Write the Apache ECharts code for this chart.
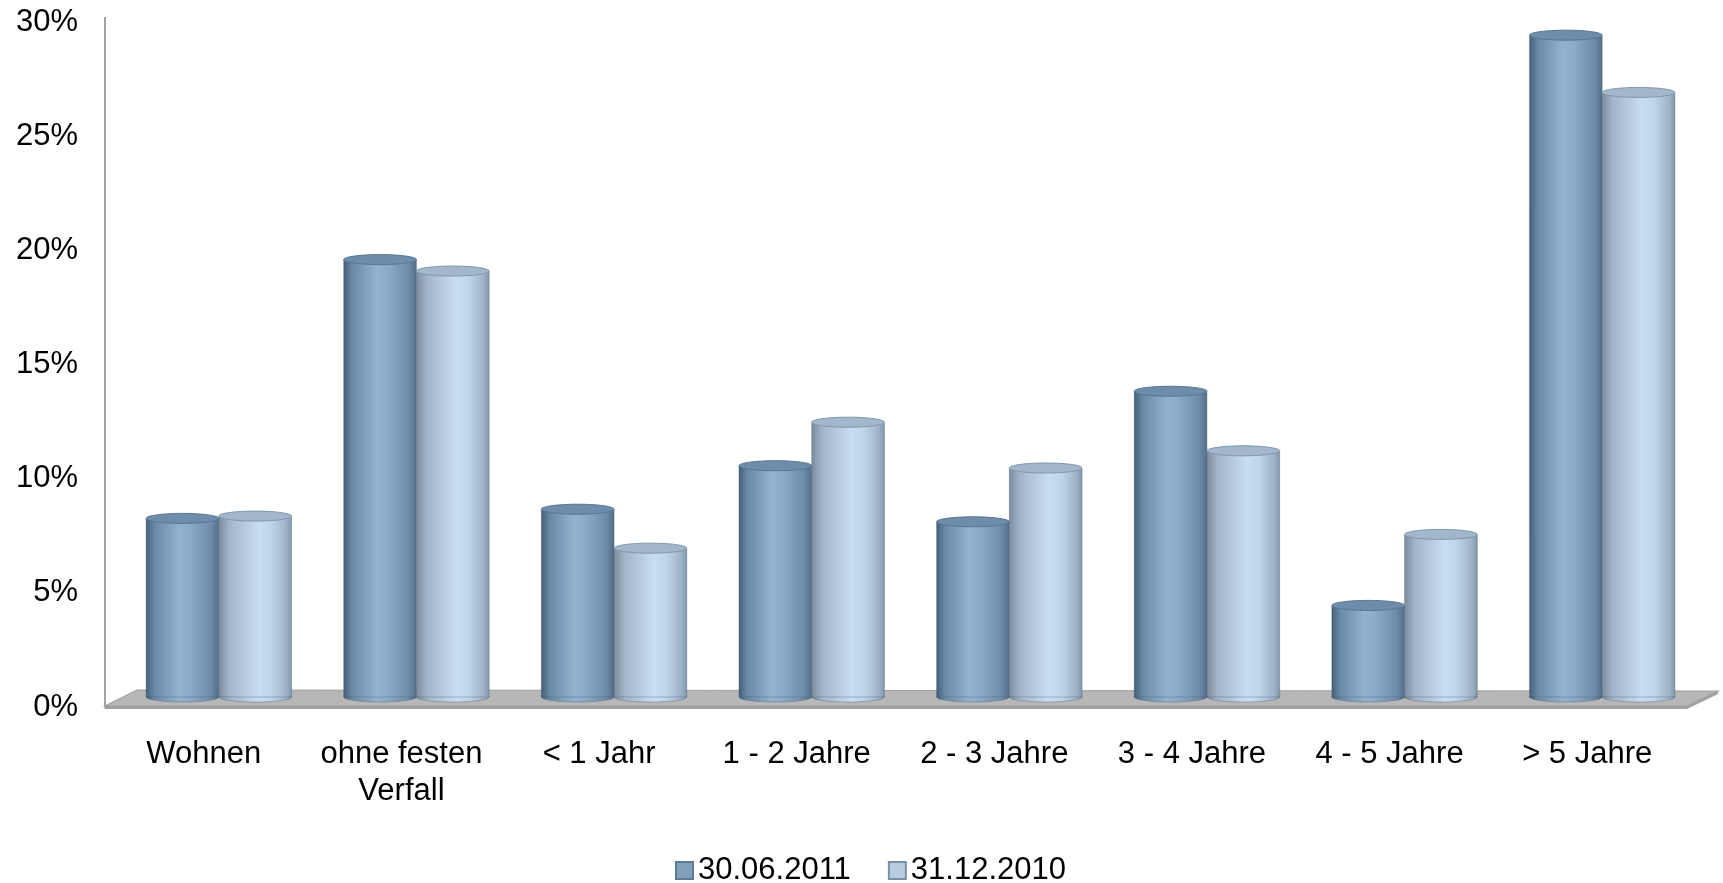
<!DOCTYPE html>
<html>
<head>
<meta charset="utf-8">
<script src="https://cdn.jsdelivr.net/npm/echarts@6/dist/echarts.min.js"></script>
<style>
html,body{margin:0;padding:0;background:#fff;}
#chart{width:1723px;height:883px;}
</style>
</head>
<body>
<div id="chart"></div>
<script>
// ---- data ----
var categories = ['Wohnen', 'ohne festen\nVerfall', '< 1 Jahr', '1 - 2 Jahre', '2 - 3 Jahre', '3 - 4 Jahre', '4 - 5 Jahre', '> 5 Jahre'];
var seriesNames = ['30.06.2011', '31.12.2010'];
var values2011 = [7.8, 19.1, 8.2, 10.1, 7.65, 13.35, 4.0, 28.9];
var values2010 = [7.9, 18.6, 6.5, 12.0, 10.0, 10.75, 7.1, 26.4];
var yTicks = [0, 5, 10, 15, 20, 25, 30];

// ---- styling ----
var FONT = "'Liberation Sans', Arial, sans-serif";
var darkStops = [
  {offset: 0, color: '#435c74'},
  {offset: 0.12, color: '#6a89a6'},
  {offset: 0.45, color: '#92b2ce'},
  {offset: 0.6, color: '#8cabc8'},
  {offset: 0.88, color: '#6f8dab'},
  {offset: 1, color: '#526c86'}
];
var lightStops = [
  {offset: 0, color: '#7a8a9c'},
  {offset: 0.15, color: '#a3b5c8'},
  {offset: 0.55, color: '#c8def2'},
  {offset: 0.72, color: '#bed4e9'},
  {offset: 0.92, color: '#9db2c7'},
  {offset: 1, color: '#7f94a9'}
];

function makeRender(side, stops, topFill, topStroke) {
  return function (params, api) {
    var idx = api.value(0);
    var v = api.value(1);
    var top = api.coord([idx, v]);
    var base = api.coord([idx, 0]);
    var band = api.size([1, 0])[0];
    var w = band * 0.368;
    var x = side < 0 ? top[0] - w : top[0];
    var ry = 5;
    var grad = new echarts.graphic.LinearGradient(0, 0, 1, 0, stops);
    return {
      type: 'group',
      children: [
        {type: 'ellipse', shape: {cx: x + w / 2, cy: base[1], rx: w / 2, ry: ry},
         style: {fill: grad, stroke: 'rgba(70,90,110,0.35)', lineWidth: 1}},
        {type: 'rect', shape: {x: x, y: top[1], width: w, height: base[1] - top[1]},
         style: {fill: grad, stroke: 'rgba(70,90,110,0.35)', lineWidth: 1}},
        {type: 'ellipse', shape: {cx: x + w / 2, cy: top[1], rx: w / 2, ry: ry},
         style: {fill: topFill, stroke: topStroke, lineWidth: 1}}
      ]
    };
  };
}

var chart = echarts.init(document.getElementById('chart'));

var floorColor = '#b7b7b7';
var option = {
  animation: false,
  backgroundColor: '#ffffff',
  graphic: [
    {type: 'line', z: 0, shape: {x1: 105, y1: 17, x2: 105, y2: 23},
     style: {stroke: '#a3a3a3', lineWidth: 2}},
    {type: 'polygon', z: 0,
     shape: {points: [[137, 690], [1718, 691], [1687, 706], [105, 706]]},
     style: {fill: floorColor, stroke: '#a2a2a2', lineWidth: 1.2}},
    {type: 'polygon', z: 0,
     shape: {points: [[105, 706], [1687, 706], [1718, 691], [1718, 694], [1687, 709], [105, 709]]},
     style: {fill: '#a0a0a0'}}
  ],
  legend: {
    data: [
      {name: seriesNames[0], itemStyle: {color: '#819fbb', borderColor: '#5f7a94', borderWidth: 2}},
      {name: seriesNames[1], itemStyle: {color: '#b8cde2', borderColor: '#7a90a6', borderWidth: 2}}
    ],
    left: 670,
    top: 850,
    icon: 'rect',
    itemWidth: 17,
    itemHeight: 17,
    itemGap: 37,
    textStyle: {fontFamily: FONT, fontSize: 31, color: '#000'}
  },
  grid: [
    {left: 105, top: 22, width: 1581, height: 685},
    {left: 120, top: 10, width: 1581, height: 687}
  ],
  xAxis: [
    {type: 'category', gridIndex: 0, data: categories,
     axisLine: {show: false}, axisTick: {show: false},
     axisLabel: {interval: 0, margin: 29, fontFamily: FONT, fontSize: 31, lineHeight: 37, color: '#000'}},
    {type: 'category', gridIndex: 1, data: categories, show: false}
  ],
  yAxis: [
    {type: 'value', gridIndex: 0, min: yTicks[0], max: yTicks[yTicks.length - 1], interval: 5,
     axisLine: {show: true, lineStyle: {color: '#a3a3a3', width: 2}},
     axisTick: {show: false}, splitLine: {show: false},
     axisLabel: {margin: 27, fontFamily: FONT, fontSize: 31, color: '#000', formatter: '{value}%'}},
    {type: 'value', gridIndex: 1, min: yTicks[0], max: yTicks[yTicks.length - 1], show: false, splitLine: {show: false}}
  ],
  series: [
    {name: seriesNames[0], type: 'custom', xAxisIndex: 1, yAxisIndex: 1, z: 3,
     itemStyle: {color: '#819fbb'},
     renderItem: makeRender(-1, darkStops, '#6e8cab', '#5a7591'),
     data: values2011.map(function (v, i) { return [i, v]; })},
    {name: seriesNames[1], type: 'custom', xAxisIndex: 1, yAxisIndex: 1, z: 3,
     itemStyle: {color: '#b8cde2'},
     renderItem: makeRender(1, lightStops, '#a2b7cc', '#8197ad'),
     data: values2010.map(function (v, i) { return [i, v]; })}
  ]
};
chart.setOption(option);
</script>
</body>
</html>
